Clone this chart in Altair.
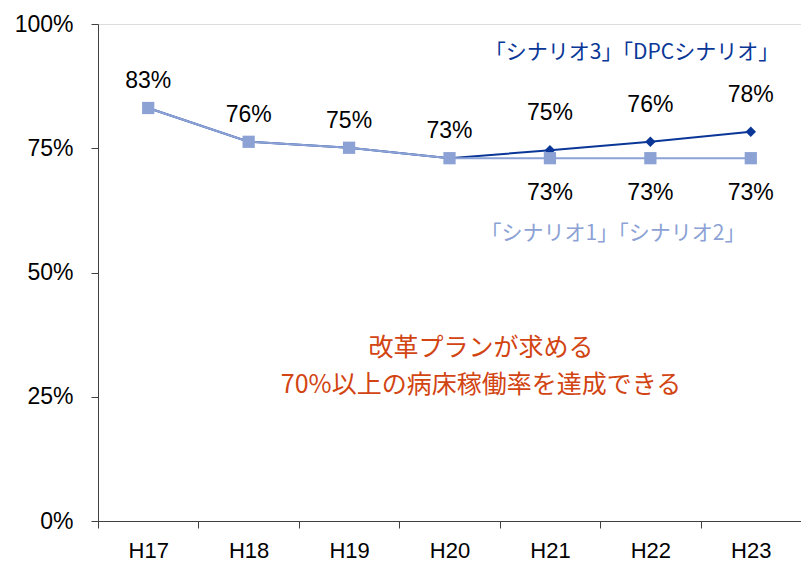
import altair as alt
import pandas as pd

years = ["H17", "H18", "H19", "H20", "H21", "H22", "H23"]
dpc_values = [0.831, 0.763, 0.751, 0.730, 0.746, 0.763, 0.783]
base_values = [0.831, 0.763, 0.751, 0.730, 0.730, 0.730, 0.730]
dpc_name = "「シナリオ3」「DPCシナリオ」"
base_name = "「シナリオ1」「シナリオ2」"
note_lines = ["改革プランが求める", "70%以上の病床稼働率を達成できる"]

DARK = "#0A3797"
LIGHT = "#8CA2D5"
RED = "#D24412"
FONT = "Liberation Sans"
JFONT = "Noto Sans CJK JP"

df_dpc = pd.DataFrame({"year": years, "value": dpc_values})
df_base = pd.DataFrame({"year": years, "value": base_values})

x = alt.X("year:N", sort=years, title=None,
          scale=alt.Scale(paddingInner=0, paddingOuter=0),
          axis=alt.Axis(labelAngle=0, tickBand="extent", labelFont=FONT, labelFontSize=22,
                        labelColor="#000", labelPadding=12, tickSize=7, domainColor="#404040",
                        tickColor="#404040", grid=False))
y = alt.Y("value:Q", title=None,
          scale=alt.Scale(domain=[0, 1], nice=False, zero=True),
          axis=alt.Axis(values=[0, 0.25, 0.5, 0.75, 1], format=".0%", labelFont=FONT,
                        labelFontSize=23, labelColor="#000", labelPadding=18, tickSize=7,
                        domainColor="#404040", tickColor="#404040", grid=False))

dpc_line = alt.Chart(df_dpc).mark_line(color=DARK, strokeWidth=2).encode(x=x, y=y)
dpc_pts = alt.Chart(df_dpc).transform_filter(
    alt.FieldOneOfPredicate(field="year", oneOf=years[4:])
).mark_point(shape="diamond", filled=True, color=DARK, size=110, opacity=1).encode(x=x, y=y)
base_line = alt.Chart(df_base).mark_line(color=LIGHT, strokeWidth=2).encode(x=x, y=y)
base_pts = alt.Chart(df_base).mark_square(color=LIGHT, size=150, opacity=1).encode(x=x, y=y)

lbl_common = dict(font=FONT, fontSize=23, color="#000")
base_above = alt.Chart(df_base).transform_filter(
    alt.FieldOneOfPredicate(field="year", oneOf=years[:4])
).mark_text(dy=-27, **lbl_common).encode(x=x, y=y, text=alt.Text("value:Q", format=".0%"))
base_below = alt.Chart(df_base).transform_filter(
    alt.FieldOneOfPredicate(field="year", oneOf=years[4:])
).mark_text(dy=35, **lbl_common).encode(x=x, y=y, text=alt.Text("value:Q", format=".0%"))
dpc_above = alt.Chart(df_dpc).transform_filter(
    alt.FieldOneOfPredicate(field="year", oneOf=years[4:])
).mark_text(dy=-37, **lbl_common).encode(x=x, y=y, text=alt.Text("value:Q", format=".0%"))

dpc_label = alt.Chart(pd.DataFrame({"t": [dpc_name]})).mark_text(
    font=JFONT, fontSize=21, color=DARK, align="center", baseline="middle"
).encode(text="t:N", x=alt.value(534), y=alt.value(29))
base_label = alt.Chart(pd.DataFrame({"t": [base_name]})).mark_text(
    font=JFONT, fontSize=21, color=LIGHT, align="center", baseline="middle"
).encode(text="t:N", x=alt.value(515), y=alt.value(210))
note1 = alt.Chart(pd.DataFrame({"t": [note_lines[0]]})).mark_text(
    font=JFONT, fontSize=25, color=RED, align="center", baseline="middle"
).encode(text="t:N", x=alt.value(383), y=alt.value(324))
note2 = alt.Chart(pd.DataFrame({"t": [note_lines[1]]})).mark_text(
    font=JFONT, fontSize=25, color=RED, align="center", baseline="middle"
).encode(text="t:N", x=alt.value(383), y=alt.value(361))

chart = alt.layer(
    dpc_line, base_line, dpc_pts, base_pts, base_above, base_below, dpc_above,
    dpc_label, base_label, note1, note2
).properties(
    width=703, height=497,
    autosize=alt.AutoSizeParams(type="none"),
    padding={"left": 90, "top": 16, "right": 0, "bottom": 40},
).configure_view(stroke=None).configure(background="white")

chart.save("out.html", embed_options={"renderer": "svg", "actions": False})
